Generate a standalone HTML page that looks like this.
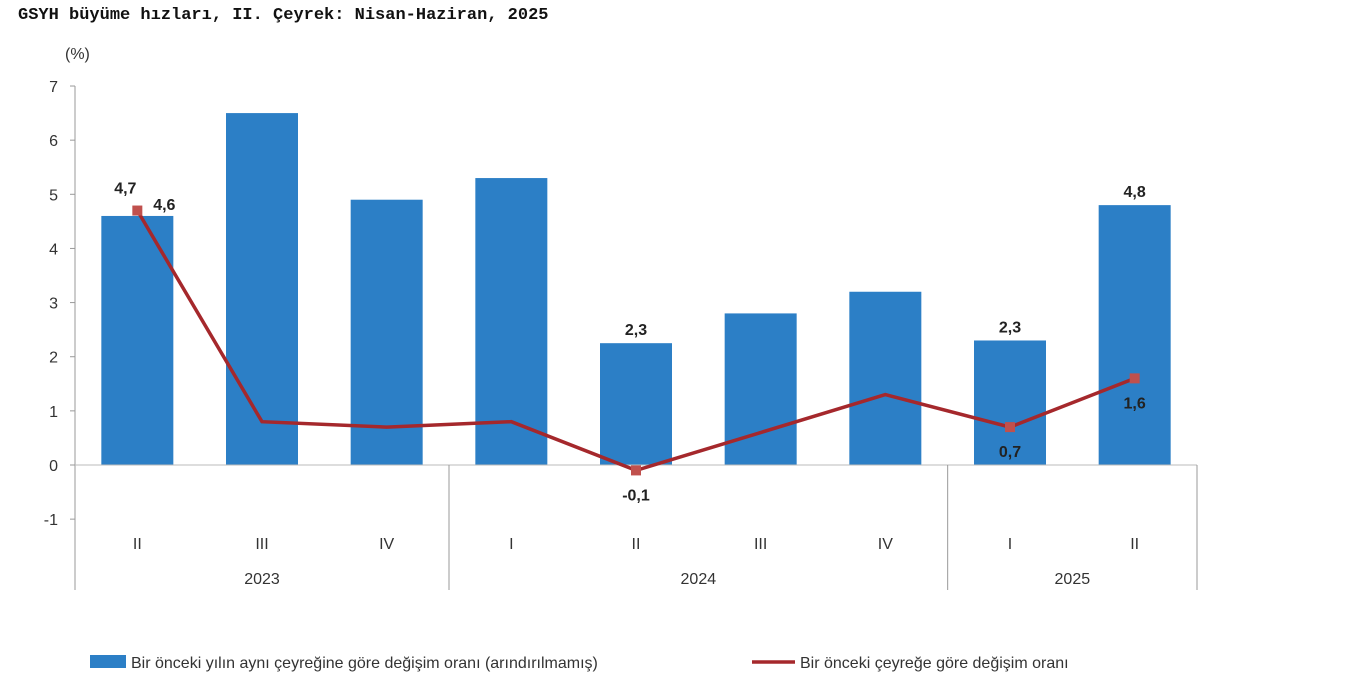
<!DOCTYPE html>
<html><head><meta charset="utf-8">
<style>
body{margin:0;background:#fff;width:1369px;height:700px;overflow:hidden;font-family:"Liberation Sans",sans-serif;}
#title{position:absolute;left:18px;top:6px;font-family:"Liberation Mono",monospace;font-weight:bold;font-size:17px;color:#111;}
svg{position:absolute;left:0;top:0;}
</style></head><body>
<div id="title">GSYH büyüme hızları, II. Çeyrek: Nisan-Haziran, 2025</div>
<svg id="chart" width="1369" height="700"></svg>
<script>
const categories=["II","III","IV","I","II","III","IV","I","II"];
const years=["2023","2024","2025"];
const yearSpans=[3,4,2];
const barValues=[4.6,6.5,4.9,5.3,2.25,2.8,3.2,2.3,4.8];
const lineValues=[4.7,0.8,0.7,0.8,-0.1,0.6,1.3,0.7,1.6];
const yTicks=[-1,0,1,2,3,4,5,6,7];
const barLabels={0:"4,6",4:"2,3",7:"2,3",8:"4,8"};
const lineLabels={0:"4,7",4:"-0,1",7:"0,7",8:"1,6"};
const NS="http://www.w3.org/2000/svg";
const svg=document.getElementById('chart');
const x0=75,x1=1197,yZero=465,unit=54.14;
const step=(x1-x0)/categories.length;
const y=v=>yZero-v*unit;
const xc=i=>x0+step*(i+0.5);
function mk(t,a,p){const e=document.createElementNS(NS,t);for(const k in a)e.setAttribute(k,a[k]);(p||svg).appendChild(e);return e;}
const blue="#2c7fc6",red="#a5282c";
// y axis
let e=mk('line',{x1:x0,y1:y(7),x2:x0,y2:590,stroke:"#999"});


yTicks.forEach(t=>{
 let l=mk('line',{x1:x0-5,y1:y(t),x2:x0,y2:y(t),stroke:"#999"});
 
 
 let tx=mk('text',{x:x0-17,y:y(t)+6,"text-anchor":"end","font-size":16,fill:"#333"});
 tx.textContent=t;
 
 
});
let u=mk('text',{x:65,y:59,"font-size":16,fill:"#333"});u.textContent="(%)";


// bars
barValues.forEach((v,i)=>{
 let b=mk('rect',{x:xc(i)-36,y:y(v),width:72,height:yZero-y(v),fill:blue});
 
 
});
// x axis
e=mk('line',{x1:x0,y1:yZero,x2:x1,y2:yZero,stroke:"#bbb"});


categories.forEach((c,i)=>{
 let t=mk('text',{x:xc(i),y:549,"text-anchor":"middle","font-size":16,fill:"#333"});t.textContent=c;
 
 
});
let acc=0;
years.forEach((yr,j)=>{
 const s=acc;acc+=yearSpans[j];
 let t=mk('text',{x:x0+step*(s+acc)/2,y:584,"text-anchor":"middle","font-size":16,fill:"#333"});t.textContent=yr;
 
 
 let l=mk('line',{x1:x0+step*acc,y1:yZero,x2:x0+step*acc,y2:590,stroke:"#999"});
 
 
});
// line
let p=mk('polyline',{points:lineValues.map((v,i)=>xc(i)+","+y(v)).join(" "),fill:"none",stroke:red,"stroke-width":3.5});


lineValues.forEach((v,i)=>{
 if(lineLabels[i]===undefined)return;
 let m=mk('rect',{x:xc(i)-5,y:y(v)-5,width:10,height:10,fill:"#c0504d"});
 
 
});
function lab(txt,x,yy,name){let t=mk('text',{x:x,y:yy,"text-anchor":"middle","font-size":16,"font-weight":"bold",fill:"#222"});t.textContent=txt;
 
 }
for(const i in barLabels){const k=+i;
 if(k===0)lab(barLabels[k],xc(k)+27,y(barValues[k])-6,'bar-value-label');
 else lab(barLabels[k],xc(k),y(barValues[k])-8,'bar-value-label');}
for(const i in lineLabels){const k=+i;
 if(k===0)lab(lineLabels[k],xc(k)-12,y(lineValues[k])-17,'line-value-label');
 else lab(lineLabels[k],xc(k),y(lineValues[k])+30,'line-value-label');}
// legend
let g=mk('g',{});
let r=mk('rect',{x:90,y:655,width:36,height:13,fill:blue},g);


let t1=mk('text',{x:131,y:668,"font-size":16,fill:"#333"},g);t1.textContent="Bir önceki yılın aynı çeyreğine göre değişim oranı (arındırılmamış)";


let l2=mk('line',{x1:752,y1:662,x2:795,y2:662,stroke:red,"stroke-width":3.5},g);


let t2=mk('text',{x:800,y:668,"font-size":16,fill:"#333"},g);t2.textContent="Bir önceki çeyreğe göre değişim oranı";


</script>
</body></html>
